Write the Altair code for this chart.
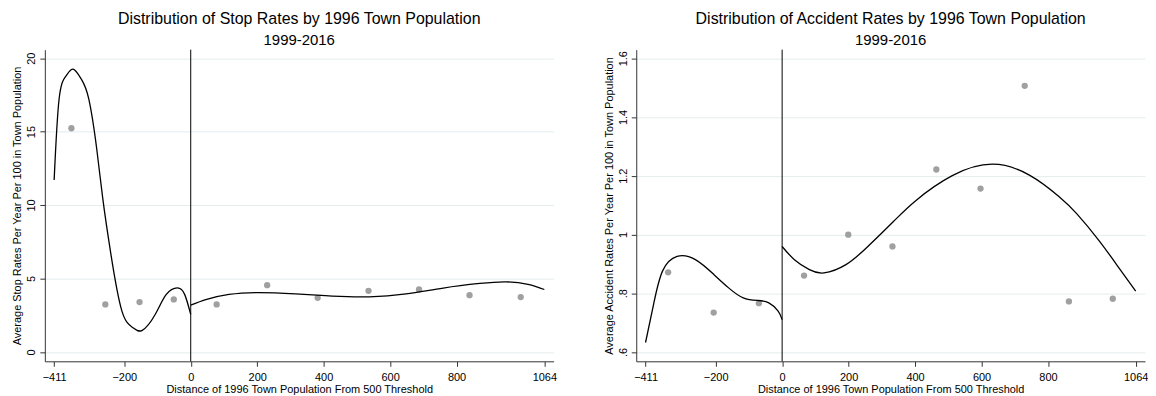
import altair as alt
import pandas as pd

FONT = "Liberation Sans"

# ---- Stop rates panel ----
stop_pt_x = [-359, -257, -154, -51, 78, 230, 382, 535, 687, 839, 993]
stop_pt_y = [15.23, 3.23, 3.39, 3.57, 3.23, 4.54, 3.68, 4.16, 4.25, 3.86, 3.73]

stop_left_x = [-411, -396, -375, -354, -330, -307, -283, -265, -240, -207, -174, -146, -107, -74, -40, -18, 0]
stop_left_y = [11.7, 17.24, 18.8, 19.25, 18.6, 17.24, 13.85, 10.5, 6.62, 2.78, 1.65, 1.47, 2.55, 3.9, 4.36, 3.9, 2.55]
stop_right_x = [0, 48, 115, 204, 315, 426, 537, 648, 760, 870, 948, 1015, 1064]
stop_right_y = [3.18, 3.57, 3.91, 4.04, 3.95, 3.8, 3.75, 3.95, 4.35, 4.66, 4.77, 4.6, 4.25]

# ---- Accident rates panel ----
acc_pt_x = [-343, -206, -70, 66, 199, 332, 464, 597, 730, 863, 995]
acc_pt_y = [0.871, 0.734, 0.766, 0.86, 0.999, 0.959, 1.221, 1.156, 1.506, 0.772, 0.781]

acc_left_x = [-411, -387, -360, -316, -261, -205, -161, -117, -73, -40, -12, 0]
acc_left_y = [0.632, 0.761, 0.875, 0.925, 0.914, 0.863, 0.818, 0.784, 0.775, 0.767, 0.739, 0.71]
acc_right_x = [0, 37, 82, 126, 192, 258, 335, 402, 512, 633, 744, 832, 887, 953, 1008, 1064]
acc_right_y = [0.959, 0.914, 0.88, 0.869, 0.897, 0.959, 1.044, 1.115, 1.2, 1.239, 1.202, 1.13, 1.07, 0.98, 0.895, 0.807]

x_ticks = [-411, -200, 0, 200, 400, 600, 800, 1064]
stop_y_ticks = [0, 5, 10, 15, 20]
acc_y_ticks = [0.6, 0.8, 1.0, 1.2, 1.4, 1.6]

X_DOMAIN = [-439, 1092]
W, H = 511, 313


def panel(pt_x, pt_y, lx, ly, rx, ry, ydom, yticks, ytitle, title, label_expr=None):
    pts = pd.DataFrame({"x": pt_x, "y": pt_y})
    curve = pd.DataFrame({
        "x": lx + rx,
        "y": ly + ry,
        "side": ["left"] * len(lx) + ["right"] * len(rx),
    })
    xscale = alt.Scale(domain=X_DOMAIN, nice=False, zero=False)
    yscale = alt.Scale(domain=ydom, nice=False, zero=False)
    yaxis_kw = dict(values=yticks, title=ytitle, grid=True, labelAngle=-90,
                    labelAlign="center", labelBaseline="bottom", labelPadding=3,
                    titlePadding=3, tickSize=5)
    if label_expr:
        yaxis_kw["labelExpr"] = label_expr
    xaxis = alt.Axis(values=x_ticks, title="Distance of 1996 Town Population From 500 Threshold",
                     grid=False, labelPadding=5, titlePadding=1, tickSize=5, labelFlush=False,
                     format="d")
    points = alt.Chart(pts).mark_circle(size=40, color="#a0a0a0", opacity=1).encode(
        x=alt.X("x:Q", scale=xscale, axis=xaxis),
        y=alt.Y("y:Q", scale=yscale, axis=alt.Axis(**yaxis_kw)),
    )
    lines = alt.Chart(curve).mark_line(color="black", strokeWidth=1.3, interpolate="natural").encode(
        x="x:Q", y="y:Q", detail="side:N"
    )
    vline = alt.Chart(pd.DataFrame({"x": [0]})).mark_rule(color="black", strokeWidth=1).encode(
        x="x:Q", y=alt.value(0), y2=alt.value(H)
    )
    return alt.layer(points, vline, lines).properties(
        width=W, height=H,
        title=alt.TitleParams(text=title, subtitle="1999-2016", fontSize=16, subtitleFontSize=15,
                              font=FONT, subtitleFont=FONT, fontWeight="normal",
                              color="black", subtitleColor="black", anchor="middle",
                              offset=1, subtitlePadding=6.5),
    )


left = panel(stop_pt_x, stop_pt_y, stop_left_x, stop_left_y, stop_right_x, stop_right_y,
             [-0.64, 20.58], stop_y_ticks,
             "Average Stop Rates Per Year Per 100 in Town Population",
             "Distribution of Stop Rates by 1996 Town Population")
right = panel(acc_pt_x, acc_pt_y, acc_left_x, acc_left_y, acc_right_x, acc_right_y,
              [0.568, 1.629], acc_y_ticks,
              "Average Accident Rates Per Year Per 100 in Town Population",
              "Distribution of Accident Rates by 1996 Town Population",
              label_expr="datum.value == 1 ? '1' : replace(format(datum.value, '.1f'), /^0/, '')")

chart = alt.hconcat(left, right, spacing=47).properties(
    padding={"left": 4, "top": 2, "right": 0, "bottom": 0},
    background="white",
).configure_view(stroke=None).configure_axis(
    labelFont=FONT, titleFont=FONT, labelFontSize=11, titleFontSize=11,
    titleFontWeight="normal", labelColor="black", titleColor="black",
    domainColor="#333333", tickColor="#333333", gridColor="#e4eced", gridWidth=1,
)

chart.save("out.html", embed_options={"renderer": "svg", "actions": False})
